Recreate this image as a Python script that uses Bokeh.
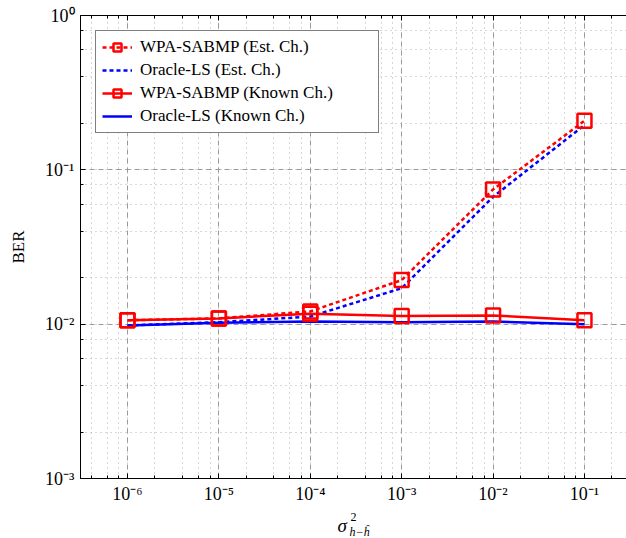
from bokeh.plotting import figure
from bokeh.layouts import column
from bokeh.models import (LogAxis, LogTicker, CustomJSTickFormatter, Legend, LegendItem, Range1d)
from bokeh.core.properties import value
from bokeh.embed import file_html
from bokeh.resources import INLINE

# ---- data ----
sigma2 = [1e-6, 1e-5, 1e-4, 1e-3, 1e-2, 1e-1]
wpa_est = [0.0106, 0.0109, 0.0121, 0.0193, 0.0746, 0.208]
ols_est = [0.0098, 0.0103, 0.0112, 0.0171, 0.0668, 0.195]
wpa_known = [0.0106, 0.0109, 0.0117, 0.0113, 0.0114, 0.0106]
ols_known = [0.0098, 0.0102, 0.0104, 0.0103, 0.0104, 0.0100]
series_names = ["WPA-SABMP (Est. Ch.)", "Oracle-LS (Est. Ch.)",
                "WPA-SABMP (Known Ch.)", "Oracle-LS (Known Ch.)"]
xlabel_parts = ["σ", "2", "h−ĥ"]

SERIF = "Liberation Serif"
XLO, XHI = -6.514, -0.54
W, H = 626, 538
FRAME_L, FRAME_T, FRAME_B = 80, 15, 478
MAIN_H = 508

p = figure(width=W, height=MAIN_H, output_backend="svg", toolbar_location=None,
           x_axis_type="log", y_axis_type="log",
           x_range=Range1d(10**XLO, 10**XHI), y_range=Range1d(1e-3, 1.0),
           min_border_left=FRAME_L, min_border_right=0, min_border_top=FRAME_T,
           min_border_bottom=MAIN_H - FRAME_B)
p.outline_line_color = None
p.background_fill_color = "white"
p.border_fill_color = "white"

fmt_code = """
const sup = {'-':'\u207b','0':'\u2070','1':'\u00b9','2':'\u00b2','3':'\u00b3','4':'\u2074',
             '5':'\u2075','6':'\u2076','7':'\u2077','8':'\u2078','9':'\u2079'};
const e = Math.round(Math.log10(tick));
return '10' + String(e).split('').map(c => sup[c]).join('');
"""
fmt = CustomJSTickFormatter(code=fmt_code)

for ax in (p.xaxis[0], p.yaxis[0]):
    ax.ticker = LogTicker(desired_num_ticks=10)
    ax.formatter = fmt
    ax.major_label_text_font = SERIF
    ax.major_label_text_font_size = "18px"
    ax.major_label_text_color = "black"
    ax.major_tick_in = 5
    ax.major_tick_out = 0
    ax.minor_tick_in = 3
    ax.minor_tick_out = 0
    ax.axis_line_color = "black"
    ax.axis_line_width = 1
    ax.major_tick_line_color = "black"
    ax.minor_tick_line_color = "black"
    ax.major_label_standoff = 6

p.xaxis.major_label_standoff = 5

p.yaxis.axis_label = "BER"
p.yaxis.axis_label_text_font = SERIF
p.yaxis.axis_label_text_font_size = "17px"
p.yaxis.axis_label_text_font_style = "normal"
p.yaxis.axis_label_text_color = "black"
p.yaxis.axis_label_standoff = 14

top = LogAxis(ticker=LogTicker(desired_num_ticks=10),
              formatter=CustomJSTickFormatter(code="return '';"),
              major_tick_in=5, major_tick_out=0, minor_tick_in=3, minor_tick_out=0,
              major_label_text_font_size="0px", axis_line_color="black")
p.add_layout(top, "above")

for g in (p.xgrid[0], p.ygrid[0]):
    g.grid_line_color = "#9a9a9a"
    g.grid_line_dash = "5 4"
    g.grid_line_width = 1
    g.minor_grid_line_color = "#b0b0b0"
    g.minor_grid_line_dash = "1 4"
    g.minor_grid_line_width = 1

RED = "#ff0000"
BLUE = "#0000ff"

r1l = p.line(sigma2, wpa_est, line_color=RED, line_width=2.5, line_dash="4 3")
r2l = p.line(sigma2, ols_est, line_color=BLUE, line_width=2.5, line_dash="4 3")
r3l = p.line(sigma2, wpa_known, line_color=RED, line_width=2.5)
r4l = p.line(sigma2, ols_known, line_color=BLUE, line_width=2.5)
r1m = p.scatter(sigma2, wpa_est, marker="square", size=14, fill_color=None,
                line_color=RED, line_width=2.5)
r3m = p.scatter(sigma2, wpa_known, marker="square", size=14, fill_color=None,
                line_color=RED, line_width=2.5)

legend = Legend(items=[
    LegendItem(label=series_names[0], renderers=[r1l, r1m]),
    LegendItem(label=series_names[1], renderers=[r2l]),
    LegendItem(label=series_names[2], renderers=[r3l, r3m]),
    LegendItem(label=series_names[3], renderers=[r4l]),
], location="top_left")
legend.margin = 15
legend.padding = 6
legend.spacing = 3
legend.label_height = 20
legend.glyph_height = 20
legend.glyph_width = 30
legend.label_width = 232
legend.label_standoff = 8
legend.label_text_font = SERIF
legend.label_text_font_size = "17px"
legend.label_text_color = "black"
legend.border_line_color = "black"
legend.border_line_width = 1
legend.background_fill_color = "white"
legend.background_fill_alpha = 1.0
p.add_layout(legend, "center")

# ---- x-axis label strip: sigma^2_{h - h_hat}, in page-pixel coordinates ----
LBL_H = H - MAIN_H
q = figure(width=W, height=LBL_H, output_backend="svg", toolbar_location=None,
           x_range=Range1d(FRAME_L, W), y_range=Range1d(H, MAIN_H),
           min_border_left=FRAME_L, min_border_right=0,
           min_border_top=0, min_border_bottom=0)
q.axis.visible = False
q.grid.visible = False
q.outline_line_color = None
q.background_fill_color = "white"
q.border_fill_color = "white"

q.text(x=[337], y=[525], text=[xlabel_parts[0]], text_font=value(SERIF), text_font_size="19px",
       text_font_style="italic", text_baseline="alphabetic", text_color="black")
q.text(x=[350], y=[516], text=[xlabel_parts[1]], text_font=value(SERIF), text_font_size="12px",
       text_baseline="alphabetic", text_color="black")
q.text(x=[349], y=[531], text=[xlabel_parts[2]], text_font=value(SERIF), text_font_size="12px",
       text_font_style="italic", text_baseline="alphabetic", text_color="black")

layout = column(p, q, spacing=0)
open("out.html", "w").write(file_html(layout, INLINE))
